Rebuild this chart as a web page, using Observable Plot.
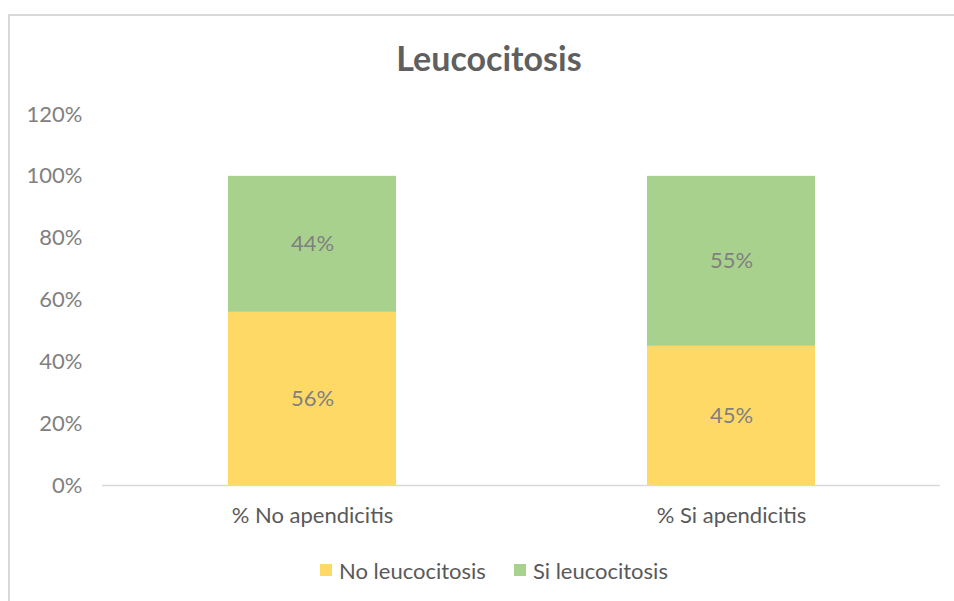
<!DOCTYPE html>
<html>
<head>
<meta charset="utf-8">
<script src="https://cdn.jsdelivr.net/npm/d3@7"></script>
<script src="https://cdn.jsdelivr.net/npm/@observablehq/plot@0.6"></script>
<style>
  html, body { margin: 0; padding: 0; background: #fff; }
  #wrap { position: relative; width: 954px; height: 601px; overflow: hidden; font-family: Lato, "Liberation Sans", sans-serif; }
  #frame { position: absolute; left: 8px; top: 14px; width: 980px; height: 620px; border: 2px solid #d9d9d9; box-sizing: border-box; }
  #title { position: absolute; left: 8px; width: 962px; top: 36px; text-align: center; font-size: 34px; line-height: 44px; font-weight: bold; color: #5f5f5f; }
  #chart { position: absolute; left: 0; top: 90px; }
  #legend { position: absolute; left: 0; width: 988px; top: 556px; height: 28px; display: flex; justify-content: center; align-items: center; font-size: 22px; color: #595959; }
  .item { display: flex; align-items: center; margin: 0 14px; }
  .sw { width: 12px; height: 12px; margin-right: 7px; }
</style>
</head>
<body>
<div id="wrap">
  <div id="frame"></div>
  <div id="title">Leucocitosis</div>
  <div id="chart"></div>
  <div id="legend"></div>
</div>
<script>
const categories = ["% No apendicitis", "% Si apendicitis"];
const series = ["No leucocitosis", "Si leucocitosis"];
const noLeucocitosis = [0.56, 0.45];
const siLeucocitosis = [0.44, 0.55];
const colors = ["#FFD966", "#A9D18E"];
const yTicks = [0, 0.2, 0.4, 0.6, 0.8, 1.0, 1.2];

const values = [noLeucocitosis, siLeucocitosis];
const data = [];
series.forEach((s, si) => categories.forEach((c, ci) => data.push({cat: c, serie: s, value: values[si][ci]})));

const plot = Plot.plot({
  width: 954,
  height: 460,
  marginTop: 24,
  marginBottom: 65,
  marginLeft: 102,
  marginRight: 14,
  style: {fontFamily: "Lato, 'Liberation Sans', sans-serif", background: "transparent", overflow: "visible"},
  x: {domain: categories, paddingInner: 0.6, paddingOuter: 0.3, label: null},
  y: {domain: [0, 1.2], label: null},
  color: {domain: series, range: colors},
  marks: [
    Plot.axisY({ticks: yTicks, tickFormat: d => Math.round(d * 100) + "%", tickSize: 0, tickPadding: 20, fontSize: 22, fill: "#808080", label: null}),
    Plot.axisX({tickSize: 0, tickPadding: 22, fontSize: 22, fill: "#595959", label: null}),
    Plot.ruleY([0], {stroke: "#d9d9d9", strokeWidth: 1.5}),
    Plot.barY(data, Plot.stackY({x: "cat", y: "value", z: "serie", fill: "serie"})),
    Plot.text(data, Plot.stackY({x: "cat", y: "value", z: "serie", text: d => Math.round(d.value * 100) + "%", fontSize: 22, fill: "#808080"}))
  ]
});
document.getElementById("chart").appendChild(plot);

const legend = document.getElementById("legend");
series.forEach((s, i) => {
  const item = document.createElement("div");
  item.className = "item";
  const sw = document.createElement("div");
  sw.className = "sw";
  sw.style.background = colors[i];
  const t = document.createElement("span");
  t.textContent = s;
  item.appendChild(sw);
  item.appendChild(t);
  legend.appendChild(item);
});
</script>
</body>
</html>
